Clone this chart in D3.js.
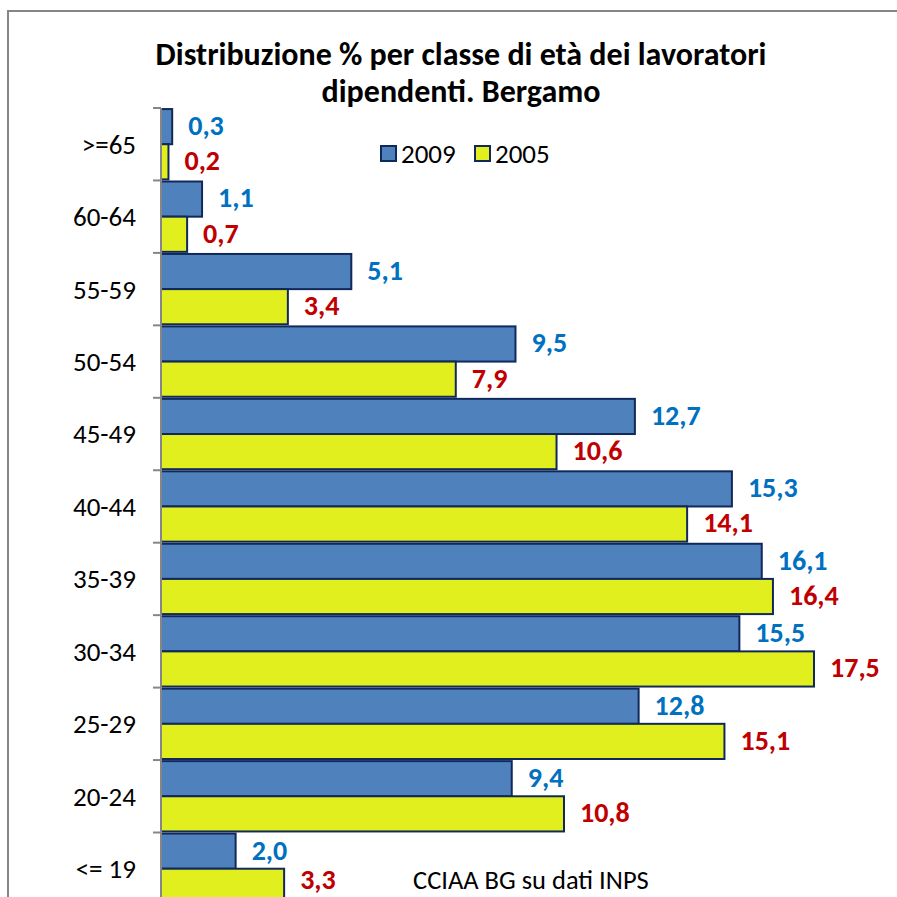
<!DOCTYPE html>
<html>
<head>
<meta charset="utf-8">
<script src="https://cdn.jsdelivr.net/npm/d3@7"></script>
<style>
  body { margin: 0; background: #fff; }
  svg { display: block; font-family: Carlito, Lato, sans-serif; }
</style>
</head>
<body>
<div id="chart"></div>
<script>
const categories = [">=65", "60-64", "55-59", "50-54", "45-49", "40-44", "35-39", "30-34", "25-29", "20-24", "<= 19"];
const series = ["2009", "2005"];
const values2009 = [0.3, 1.1, 5.1, 9.5, 12.7, 15.3, 16.1, 15.5, 12.8, 9.4, 2.0];
const values2005 = [0.2, 0.7, 3.4, 7.9, 10.6, 14.1, 16.4, 17.5, 15.1, 10.8, 3.3];
const sourceNote = "CCIAA BG su dati INPS";

const width = 897, height = 897;
const fills = {"2009": "#4f81bd", "2005": "#e2ef1e"};
const labelColors = {"2009": "#0070c0", "2005": "#c00000"};
const fmt = v => d3.format(".1f")(v).replace(".", ",");

const rows = categories.map((c, i) => ({cat: c, vals: [
    {key: "2009", value: values2009[i]},
    {key: "2005", value: values2005[i]}
]}));

const svg = d3.select("#chart")
    .append("svg")
    .attr("width", width)
    .attr("height", height);

// chart frame (cut off at right and bottom)
svg.append("rect")
    .attr("x", 8).attr("y", 11)
    .attr("width", 1000).attr("height", 1000)
    .attr("fill", "none")
    .attr("stroke", "#868686")
    .attr("stroke-width", 2);

svg.append("text")
    .attr("text-anchor", "middle")
    .attr("font-weight", "bold")
    .attr("font-size", 32)
    .selectAll("tspan")
    .data(["Distribuzione % per classe di età dei lavoratori", "dipendenti. Bergamo"])
    .join("tspan")
        .attr("x", 461)
        .attr("y", (d, i) => 65 + i * 37)
        .text(d => d);

const x0 = 161;
const x = d3.scaleLinear().domain([0, 17.5]).range([x0, 814]);
const y = d3.scaleBand().domain(categories).range([108, 108 + 11 * 72.45]);
const ySub = d3.scaleBand().domain(series).range([0, y.bandwidth()]).paddingOuter(0.03);

const g = svg.append("g");

const cat = g.selectAll("g.cat")
    .data(rows)
    .join("g")
        .attr("class", "cat")
        .attr("transform", d => `translate(0,${y(d.cat)})`);

cat.selectAll("rect")
    .data(d => d.vals)
    .join("rect")
        .attr("x", x0)
        .attr("y", d => ySub(d.key))
        .attr("width", d => x(d.value) - x0)
        .attr("height", ySub.bandwidth())
        .attr("fill", d => fills[d.key])
        .attr("stroke", "#10295a")
        .attr("stroke-width", 2);

// value labels; keep the last one inside the picture
cat.selectAll("text.val")
    .data(d => d.vals.map(v => ({...v, cat: d.cat})))
    .join("text")
        .attr("class", "val")
        .attr("x", d => x(d.value) + 16)
        .attr("y", d => Math.min(ySub(d.key) + ySub.bandwidth() / 2 + 8.4, height - 8 - y(d.cat)))
        .attr("font-size", 28)
        .attr("font-weight", "bold")
        .attr("fill", d => labelColors[d.key])
        .text(d => fmt(d.value));

// category axis
const axis = g.append("g");
axis.append("line")
    .attr("x1", x0).attr("x2", x0)
    .attr("y1", y.range()[0]).attr("y2", y.range()[1])
    .attr("stroke", "#868686").attr("stroke-width", 2);
axis.selectAll("line.tick")
    .data(categories.concat([null]))
    .join("line")
        .attr("class", "tick")
        .attr("x1", x0 - 8).attr("x2", x0)
        .attr("y1", (d, i) => y.range()[0] + i * y.step())
        .attr("y2", (d, i) => y.range()[0] + i * y.step())
        .attr("stroke", "#868686").attr("stroke-width", 2);
axis.selectAll("text")
    .data(categories)
    .join("text")
        .attr("x", 136)
        .attr("y", d => y(d) + y.bandwidth() / 2)
        .attr("dy", "0.35em")
        .attr("text-anchor", "end")
        .attr("font-size", 27)
        .attr("fill", "#000")
        .text(d => d);

// legend
const legend = svg.append("g").attr("transform", "translate(381,146)");
const items = legend.selectAll("g")
    .data(series)
    .join("g")
        .attr("transform", (d, i) => `translate(${i * 94},0)`);
items.append("rect")
    .attr("width", 15).attr("height", 15)
    .attr("fill", d => fills[d])
    .attr("stroke", "#10295a").attr("stroke-width", 2);
items.append("text")
    .attr("x", 20).attr("y", 8).attr("dy", "0.35em")
    .attr("font-size", 27)
    .text(d => d);

svg.append("text")
    .attr("x", 413).attr("y", 889)
    .attr("font-size", 26.5)
    .text(sourceNote);
</script>
</body>
</html>
